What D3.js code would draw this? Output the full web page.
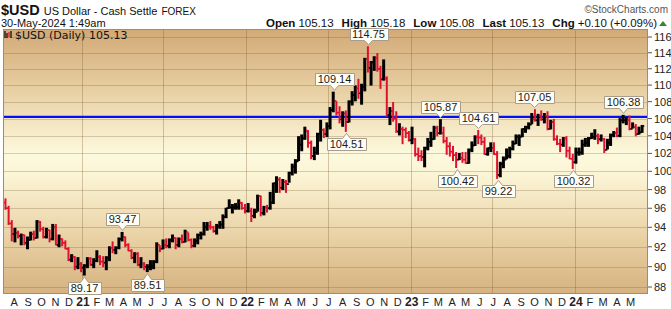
<!DOCTYPE html>
<html><head><meta charset="utf-8">
<script src="https://cdn.jsdelivr.net/npm/d3@7"></script>
<style>
body{margin:0;background:#fff;}
svg{display:block;font-family:"Liberation Sans",Arial,sans-serif;}
</style></head><body><svg id="c" width="671" height="309"></svg>
<script>
// ---- data (weekly bars; weeks end on Fridays starting 2020-07-17) ----
const firstWeek = "2020-07-17";
const firstOpen = 96.6;
const highs = [
 97.0,96.2,94.7,93.9,93.6,93.3,93.2,93.0,93.5,93.6,94.7,94.6,94.0,93.9,93.7,94.3,94.3,93.2,92.8,92.6,91.9,91.2,91.0,90.9,90.4,
 90.2,90.9,90.9,90.8,91.6,91.1,91.0,91.0,92.0,92.5,92.0,92.9,93.47,93.0,92.3,91.7,91.4,91.4,90.9,90.4,90.2,90.6,90.6,92.4,92.1,92.7,92.8,92.8,93.2,92.9,92.9,93.2,93.7,93.4,92.8,92.8,93.3,93.5,94.5,94.5,94.6,94.1,94.3,94.6,95.3,96.0,96.9,96.4,96.5,96.9,96.6,96.4,
 96.5,96.0,95.9,97.4,97.3,96.2,96.3,97.7,98.7,99.4,99.3,99.1,99.0,99.9,100.8,101.3,103.9,104.1,105.0,104.6,103.4,102.7,104.3,105.8,104.8,105.5,107.3,109.14,108.0,107.4,106.8,106.9,108.1,109.2,109.9,110.7,110.1,113.3,114.75,112.9,113.5,113.9,112.3,113.1,111.0,107.3,107.9,106.8,105.4,105.0,104.9,104.5,
 105.0,103.7,102.6,102.3,102.7,103.7,104.4,105.1,105.1,105.87,105.0,103.8,103.2,102.8,102.1,102.0,102.1,102.1,102.5,103.3,104.0,104.61,104.1,103.8,102.6,103.2,103.2,102.2,101.0,101.6,102.5,102.7,103.4,104.1,104.1,104.8,105.1,105.5,106.6,107.05,106.5,106.9,106.6,106.8,105.8,105.9,104.0,103.6,103.8,103.9,102.7,101.9,
 102.6,102.6,103.5,103.7,103.8,104.3,104.7,104.2,104.1,103.7,103.6,104.2,104.5,104.9,106.0,106.38,106.1,106.3,105.5,105.3,105.0,105.2
];
const lows = [
 95.9,94.3,92.6,92.5,92.9,92.2,92.2,91.8,92.7,92.7,92.9,93.6,92.9,92.9,92.5,92.7,92.2,92.0,92.1,91.8,90.6,90.5,89.7,89.8,89.5,
 89.17,89.9,90.1,89.9,90.5,90.2,90.0,89.7,90.6,91.4,91.3,91.8,92.6,92.0,91.6,90.8,90.4,90.1,89.9,89.7,89.51,89.7,89.8,90.4,91.5,91.8,91.9,91.9,92.5,91.8,92.0,92.4,92.5,92.6,91.9,92.0,92.3,92.8,93.2,93.7,93.8,93.5,93.3,93.9,93.9,95.0,96.0,95.5,95.9,95.9,95.9,95.5,
 95.6,94.6,95.0,95.7,95.2,95.3,95.6,95.9,96.5,97.7,97.7,98.0,97.7,98.8,99.6,99.8,101.2,102.3,103.6,102.7,101.4,101.3,101.9,103.4,103.8,103.9,104.8,106.8,106.4,105.5,105.1,104.51,105.6,107.6,108.1,108.4,107.7,109.3,111.6,110.0,111.8,111.7,109.6,110.6,106.3,105.3,105.7,104.4,104.1,103.1,103.8,103.4,
 103.1,101.7,101.2,101.2,100.5,102.4,102.8,103.6,104.0,104.2,103.2,101.9,101.7,101.2,100.42,101.3,101.0,100.9,100.9,102.2,102.9,103.1,103.0,101.9,101.8,102.2,101.9,99.22,99.4,100.4,101.4,101.5,102.4,103.1,102.9,103.9,104.4,104.8,105.4,105.7,105.2,105.8,105.5,104.7,104.8,103.5,103.0,102.2,102.8,101.6,101.4,100.32,
 100.9,101.8,101.9,102.8,102.8,103.7,103.6,103.1,103.4,102.1,102.5,102.9,103.9,103.9,103.9,105.5,105.3,104.7,104.9,104.0,104.2,104.4
];
const closes = [
 96.0,94.4,93.3,93.4,93.1,93.2,92.4,92.7,93.3,92.9,94.6,93.8,93.0,93.7,92.8,94.0,92.2,92.8,92.4,91.8,90.7,91.0,90.0,90.3,89.9,
 90.1,90.8,90.2,90.6,91.0,90.5,90.4,90.9,91.9,91.7,91.9,92.8,93.0,92.2,91.6,90.9,91.3,90.2,90.3,90.0,90.0,90.1,90.5,92.2,91.8,92.2,92.1,92.7,92.9,92.2,92.8,92.5,93.5,92.7,92.1,92.6,93.2,93.3,94.0,94.1,94.0,93.6,94.1,94.3,95.1,96.0,96.1,96.1,96.1,96.6,96.0,95.7,
 95.7,95.2,95.6,97.3,95.5,96.1,96.0,96.6,98.7,99.1,98.2,98.8,98.6,99.8,100.5,101.1,103.0,103.7,104.6,103.2,101.7,102.1,104.2,104.7,104.2,105.1,107.0,108.1,106.7,105.9,106.6,105.6,108.0,108.8,109.6,109.0,109.8,113.2,112.1,112.8,113.3,112.0,110.7,110.8,106.4,106.9,106.0,104.5,104.8,104.7,104.3,103.5,
 103.6,101.9,101.7,101.6,102.6,103.3,103.6,104.9,104.3,104.3,103.4,102.8,102.2,101.8,101.3,101.5,101.3,100.9,102.4,102.9,103.9,103.8,103.3,101.9,102.6,102.6,101.9,99.6,100.8,101.3,101.7,102.5,103.1,103.9,103.9,104.8,105.0,105.3,105.9,105.8,106.3,105.9,106.3,104.8,105.6,103.6,103.1,103.0,103.7,102.3,101.4,101.0,
 102.1,102.1,103.0,103.2,103.7,103.9,104.0,103.6,103.6,102.4,103.2,104.1,104.3,104.0,105.8,105.8,105.8,104.8,105.0,104.2,104.4,105.13
];
const annoDates  = ["2021-01-06","2021-03-31","2021-05-25","2022-07-14","2022-08-10","2022-09-28","2023-03-08","2023-04-14","2023-05-31","2023-07-14","2023-10-03","2023-12-28","2024-04-16"];
const annoValues = [89.17,93.47,89.51,109.14,104.51,114.75,105.87,100.42,104.61,99.22,107.05,100.32,106.38];
const annoSides  = ["below","above","below","above","below","above","above","below","above","below","above","below","above"];
const yTicks = [88,90,92,94,96,98,100,102,104,106,108,110,112,114,116];
const monthLetters = ["J","F","M","A","M","J","J","A","S","O","N","D"];
const hlineValue = 106.2;
const headerQuote = [["Open","105.13"],["High","105.18"],["Low","105.08"],["Last","105.13"],["Chg","+0.10 (+0.09%)"]];

// ---- layout ----
const L=3,R=648,T=29,B=294;
const svg=d3.select("#c");
const parse=d3.timeParse("%Y-%m-%d");
const x=d3.scaleTime().domain([new Date(2021,0,1),new Date(2024,0,1)]).range([82,575]);
const y=d3.scaleLog().domain([88,116]).range([287,37]);
const fridays=d3.timeFriday.range(parse(firstWeek),new Date(2024,5,1)).slice(0,closes.length);

const defs=svg.append("defs");
const g=defs.append("linearGradient").attr("id","bg").attr("x1",0).attr("y1",0).attr("x2",0).attr("y2",1);
[[0,"#d2a977"],[0.2,"#e5ca9c"],[0.47,"#fdf9dd"],[0.55,"#fbf5d6"],[0.8,"#e8cfa2"],[1,"#d6b281"]].forEach(s=>g.append("stop").attr("offset",s[0]).attr("stop-color",s[1]));
defs.append("clipPath").attr("id","clip").append("rect").attr("x",L).attr("y",T).attr("width",R-L).attr("height",B-T);

svg.append("rect").attr("x",L).attr("y",T).attr("width",R-L).attr("height",B-T).attr("fill","url(#bg)");

// grid
const grid=svg.append("g").attr("clip-path","url(#clip)");
grid.selectAll(".hg").data(yTicks).join("line").attr("x1",L).attr("x2",R)
  .attr("y1",d=>Math.round(y(d))+0.5).attr("y2",d=>Math.round(y(d))+0.5)
  .attr("stroke","#7a5a30").attr("stroke-opacity",0.28).attr("stroke-width",1);
const vDates=d3.timeMonth.range(new Date(2020,6,1),new Date(2024,6,1)).filter(d=>d.getMonth()%6===0);
grid.selectAll(".vg").data(vDates).join("line").attr("y1",T).attr("y2",B)
  .attr("x1",d=>Math.round(x(d))+0.5).attr("x2",d=>Math.round(x(d))+0.5)
  .attr("stroke","#7a5a30").attr("stroke-opacity",0.32).attr("stroke-width",1);

// blue horizontal line
svg.append("line").attr("x1",L).attr("x2",R).attr("y1",y(hlineValue)).attr("y2",y(hlineValue))
  .attr("stroke","#0010ff").attr("stroke-width",2.2);

// bars
const bars=svg.append("g").attr("clip-path","url(#clip)");
fridays.forEach((d,i)=>{
  const open=i===0?firstOpen:closes[i-1];
  const up=closes[i]>=open;
  const col=up?"#000":"#e0112f";
  const xc=x(d3.timeDay.offset(d,-2));
  const w=up?3:2;
  bars.append("line").attr("x1",xc).attr("x2",xc).attr("y1",y(highs[i])-0.5).attr("y2",y(lows[i])+0.5)
    .attr("stroke",col).attr("stroke-width",w);
  bars.append("line").attr("x1",xc-2.2).attr("x2",xc).attr("y1",y(open)).attr("y2",y(open)).attr("stroke",col).attr("stroke-width",1.5);
  bars.append("line").attr("x1",xc).attr("x2",xc+2.2).attr("y1",y(closes[i])).attr("y2",y(closes[i])).attr("stroke",col).attr("stroke-width",1.5);
});

// frame
svg.append("rect").attr("x",L+0.5).attr("y",T+0.5).attr("width",R-L-1).attr("height",B-T-1)
  .attr("fill","none").attr("stroke","#a08c72");

// annotations
const an=svg.append("g");
annoDates.forEach((ds,i)=>{
  const cx=Math.round(x(parse(ds)))+0.5;
  const v=annoValues[i];
  const t=an.append("text").attr("font-size","11px").attr("fill","#1a1a1a").attr("text-anchor","middle").text(v.toFixed(2));
  const tw=t.node().getComputedTextLength();
  const bw=Math.round(tw+5), bh=12;
  const x0=Math.round(cx-bw/2)+0.5, x1=x0+bw;
  let p;
  if(annoSides[i]==="above"){
    const tip=y(v)-2, yb=Math.round(y(v)-7)+0.5, yt=yb-bh;
    p=`M${x0},${yt}H${x1}V${yb}H${cx+4}L${cx},${tip}L${cx-4},${yb}H${x0}Z`;
    t.attr("x",cx).attr("y",yb-2.2);
  } else {
    const tip=y(v)+2, yt=Math.round(y(v)+7)+0.5, yb=yt+bh;
    p=`M${x0},${yt}H${cx-4}L${cx},${tip}L${cx+4},${yt}H${x1}V${yb}H${x0}Z`;
    t.attr("x",cx).attr("y",yb-2.2);
  }
  an.insert("path","text").attr("d",p).attr("fill","#fffef6").attr("stroke","#a89c8c").attr("stroke-width",1);
});

// y axis
const ya=svg.append("g");
yTicks.forEach(v=>{
  ya.append("line").attr("x1",R).attr("x2",R+4).attr("y1",y(v)).attr("y2",y(v)).attr("stroke","#555");
  ya.append("text").attr("x",R+6).attr("y",y(v)).attr("dy","0.36em").attr("font-size","11px").attr("fill","#222").text(v);
});

// x axis labels
const months=d3.timeMonth.range(new Date(2020,7,1),new Date(2024,5,1));
const xa=svg.append("g");
months.forEach(m=>{
  const jan=m.getMonth()===0;
  xa.append("text").attr("x",x(m)+1).attr("y",306).attr("text-anchor","middle")
    .attr("font-size",jan?"12px":"11px").attr("font-weight",jan?"bold":"normal").attr("fill","#222")
    .text(jan?String(m.getFullYear()).slice(2):monthLetters[m.getMonth()]);
});

// header
const h1=svg.append("text").attr("x",1).attr("y",15).attr("fill","#111");
h1.append("tspan").attr("font-weight","bold").attr("font-size","14.5px").text("$USD");
h1.append("tspan").attr("font-size","11px").attr("dx",4).text("US Dollar - Cash Settle");
h1.append("tspan").attr("font-size","10px").attr("dx",4).text("FOREX");
svg.append("text").attr("x",668).attr("y",13).attr("text-anchor","end").attr("font-size","10px").attr("fill","#555").text("\u00A9StockCharts.com");
svg.append("text").attr("x",1).attr("y",27).attr("font-size","11px").attr("fill","#111").text("30-May-2024 1:49am");
const h2=svg.append("text").attr("x",657).attr("y",27).attr("text-anchor","end").attr("font-size","11.5px").attr("fill","#111");
headerQuote.forEach((q,i)=>{
  h2.append("tspan").attr("font-weight","bold").attr("dx",i?8:0).text(q[0]);
  h2.append("tspan").attr("dx",3).text(q[1]);
});
svg.append("path").attr("d","M659,26L663,21L667,26Z").attr("fill","#2e8b2e");

// legend
const lg=svg.append("g");
[[5,31,38,"#000"],[7,33,38,"#000"],[9,32,37,"#e0112f"],[11,31,38,"#000"]].forEach(b=>
  lg.append("line").attr("x1",b[0]).attr("x2",b[0]).attr("y1",b[1]).attr("y2",b[2]).attr("stroke",b[3]).attr("stroke-width",1.2));
lg.append("text").attr("x",15).attr("y",39).attr("font-family","'DejaVu Sans',sans-serif").attr("font-size","11px").attr("fill","#111").text("$USD (Daily) 105.13");
</script></body></html>
